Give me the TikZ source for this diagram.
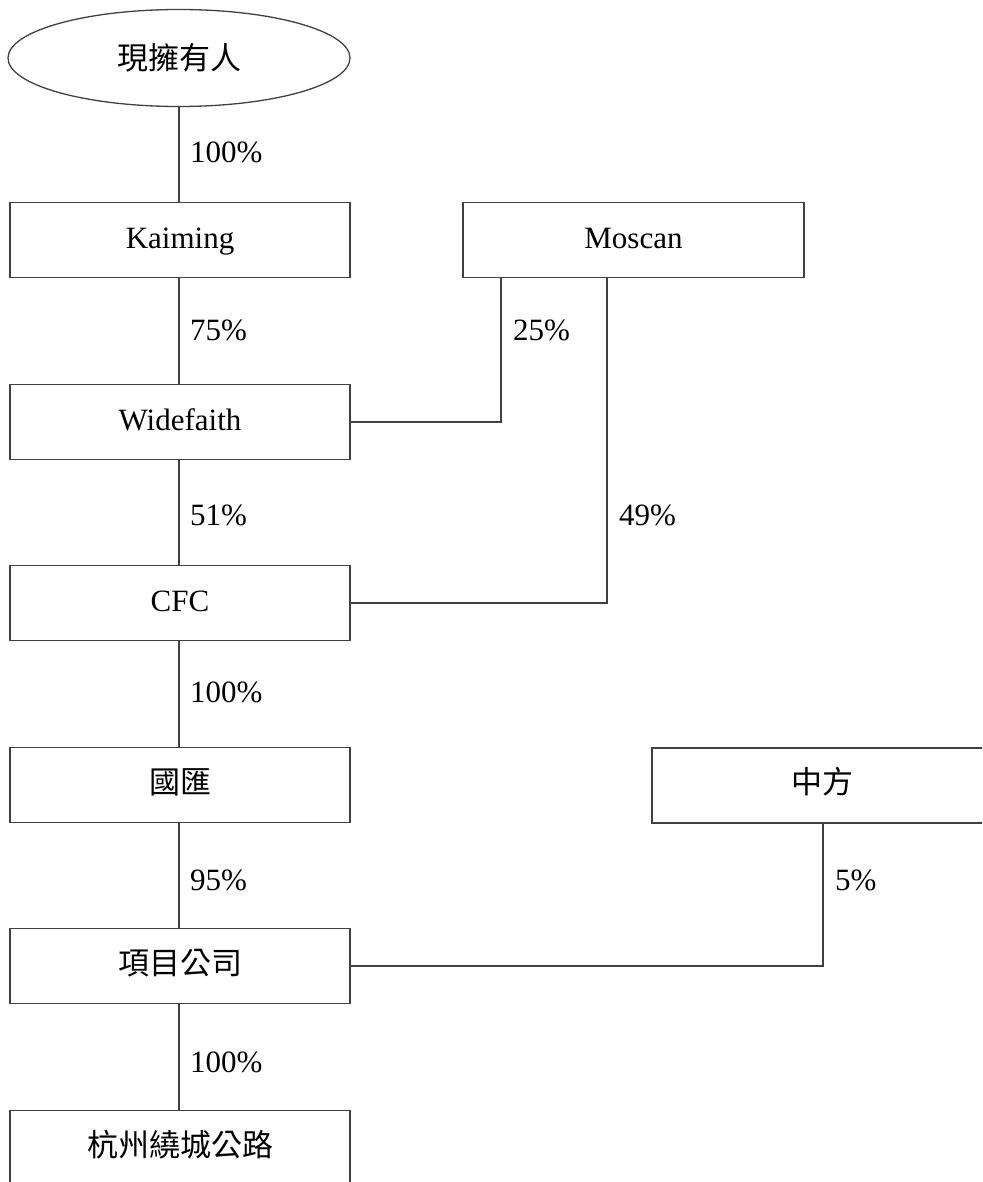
\documentclass[tikz,border=0pt]{standalone}
\usepackage{fontspec}
\setmainfont{Liberation Serif}
\newfontfamily\cjk{Noto Sans CJK TC}
\usetikzlibrary{shapes.geometric}

\newlength{\du}
\setlength{\du}{1pt}

\tikzset{
  holdbox/.style={draw=black!75, line width=1.3\du, fill=white, minimum width=340\du, minimum height=75\du, inner sep=0pt, text height=22\du, text depth=6\du},
  ownerbox/.style={ellipse, draw=black!75, line width=1.3\du, minimum width=342\du, minimum height=97\du, inner sep=0pt},
  share/.style={anchor=west, inner sep=0pt},
  link/.style={draw=black!75, line width=1.3\du}
}

\begin{document}
\begin{tikzpicture}[yscale=-1, x=1\du, y=1\du, font=\fontsize{31}{36}\selectfont]
\useasboundingbox (0,0) rectangle (982,1182);
\clip (0,0) rectangle (982,1182);
% owners
\node[ownerbox] (owner) at (179,58) {\cjk 現擁有人};
% left column
\node[holdbox] (kaiming) at (180,240) {Kaiming};
\node[holdbox] (widefaith) at (180,422) {Widefaith};
\node[holdbox] (cfc) at (180,603) {CFC};
\node[holdbox] (guohui) at (180,785) {\cjk 國匯};
\node[holdbox] (project) at (180,966) {\cjk 項目公司};
\node[holdbox] (road) at (180,1148) {\cjk 杭州繞城公路};
% right side
\node[holdbox, minimum width=341\du] (moscan) at (633.5,240) {Moscan};
\node[holdbox, minimum width=340\du] (china) at (822,785.5) {\cjk 中方};
% vertical links
\draw[link] (owner.south) -- (owner.south |- kaiming.north);
\draw[link] (kaiming.south -| owner.south) -- (widefaith.north -| owner.south);
\draw[link] (widefaith.south -| owner.south) -- (cfc.north -| owner.south);
\draw[link] (cfc.south -| owner.south) -- (guohui.north -| owner.south);
\draw[link] (guohui.south -| owner.south) -- (project.north -| owner.south);
\draw[link] (project.south -| owner.south) -- (road.north -| owner.south);
% side links
\coordinate (m1) at (501,277.5);
\coordinate (m2) at (607,277.5);
\coordinate (c1) at (823,823);
\draw[link] (m1) |- (widefaith.east);
\draw[link] (m2) |- (cfc.east);
\draw[link] (c1) |- (project.east);
% percentages
\node[share] (p1) at (190,152) {100\%};
\node[share] (p2) at (190,330) {75\%};
\node[share] (p3) at (513,330) {25\%};
\node[share] (p4) at (190,515) {51\%};
\node[share] (p5) at (619,515) {49\%};
\node[share] (p6) at (190,692) {100\%};
\node[share] (p7) at (190,880) {95\%};
\node[share] (p8) at (835,880) {5\%};
\node[share] (p9) at (190,1062) {100\%};
\end{tikzpicture}
\end{document}
